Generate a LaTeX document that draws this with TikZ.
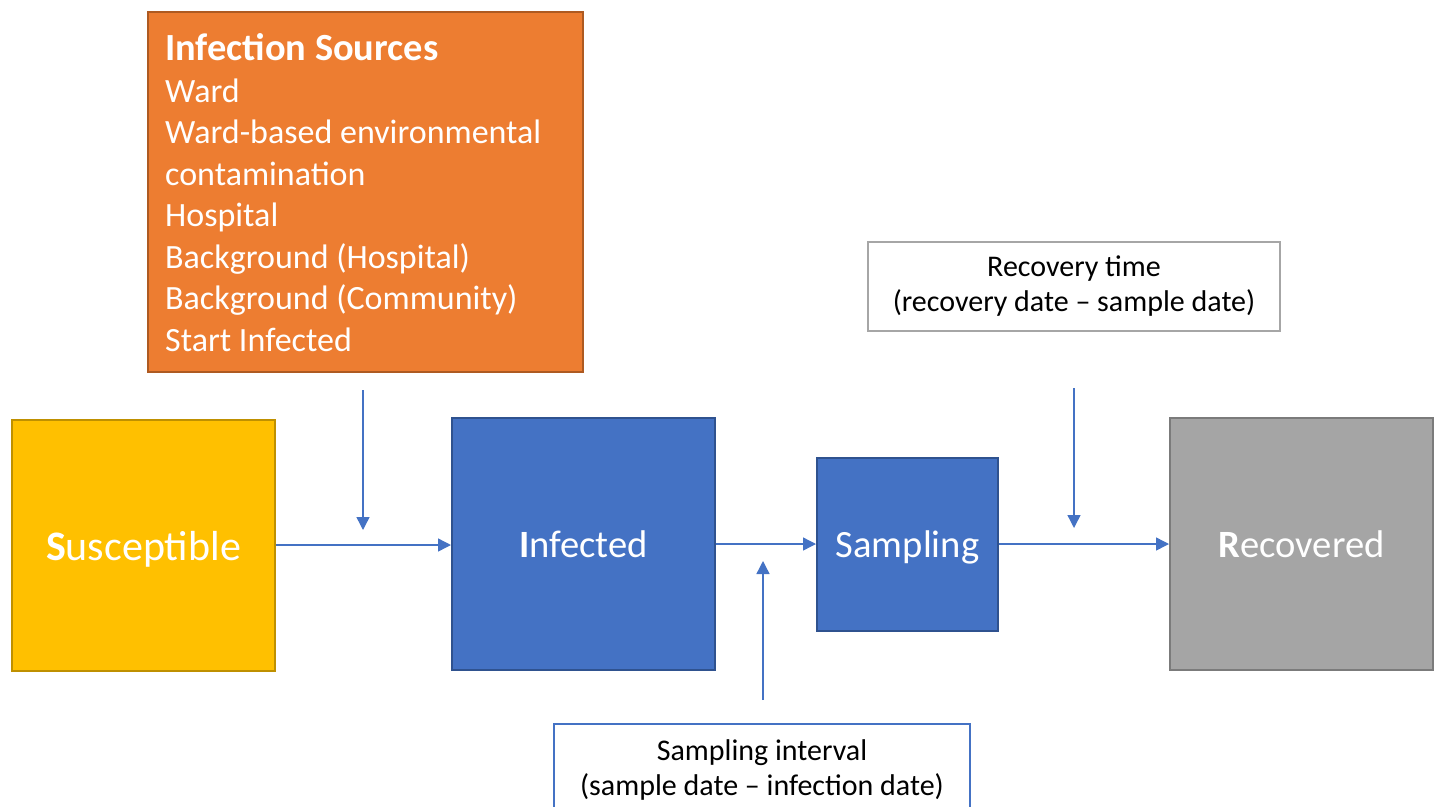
\documentclass[tikz,border=0pt]{standalone}
\usepackage{fontspec}
\setmainfont{Carlito}
\usetikzlibrary{arrows.meta}
\definecolor{srcfill}{HTML}{ED7D31}
\definecolor{srcline}{HTML}{AE5A21}
\definecolor{susfill}{HTML}{FFC000}
\definecolor{susline}{HTML}{BF9000}
\definecolor{infill}{HTML}{4472C4}
\definecolor{inline}{HTML}{2F528F}
\definecolor{recfill}{HTML}{A5A5A5}
\definecolor{recline}{HTML}{7B7B7B}
\definecolor{noteline}{HTML}{A6A6A6}
\tikzset{
  statebox/.style={draw, line width=2pt, inner sep=0pt, text=white,
    text depth=0pt, font=\fontsize{38.6}{46}\selectfont},
  notebox/.style={draw, line width=2pt, fill=white, inner sep=0pt, align=center,
    font=\fontsize{30}{34.5}\selectfont},
  flow/.style={draw=infill, line width=1.4pt,
    -{Triangle[length=13pt,width=13pt]}},
}
\begin{document}
\begin{tikzpicture}[x=1pt,y=-1pt]
\useasboundingbox (0,0) rectangle (1435,806);
\clip (0,0) rectangle (1435,806);

% infection sources panel
\node[draw=srcline, fill=srcfill, line width=2pt, minimum width=435pt,
  minimum height=360pt, inner sep=0pt] (src) at (365.5,192) {};
\node[anchor=base west, align=left, text=white, inner sep=0pt,
  font=\fontsize{34}{41.5}\selectfont] (srclist) at (165,351)
  {{\bfseries\fontsize{38.4}{41.5}\selectfont Infection Sources}\\Ward\\Ward-based environmental\\contamination\\Hospital\\Background (Hospital)\\Background (Community)\\Start Infected};

% compartments
\node[statebox, draw=susline, fill=susfill, minimum width=263pt,
  minimum height=251pt, font=\fontsize{42}{50}\selectfont] (sus) at (143.5,545.5) {\textbf{S}usceptible};
\node[statebox, draw=inline, fill=infill, minimum width=263pt,
  minimum height=252pt] (inf) at (583.5,544) {\textbf{I}nfected};
\node[statebox, draw=inline, fill=infill, minimum width=181pt,
  minimum height=173pt] (samp) at (907.5,544.5) {Sampling};
\node[statebox, draw=recline, fill=recfill, minimum width=263pt,
  minimum height=252pt] (rec) at (1301.5,544) {\textbf{R}ecovered};

% annotation boxes
\node[notebox, draw=noteline, minimum width=412pt, minimum height=89pt]
  (rtime) at (1074,286) {Recovery time\\(recovery date -- sample date)};
\node[notebox, draw=infill, minimum width=416pt, minimum height=120pt,
  anchor=north] (sint) at (762,723) {\\[-2pt]Sampling interval\\(sample date -- infection date)\\[10pt]};

% flows between compartments
\draw[flow] (sus.east |- 0,545) -- (inf.west |- 0,545);
\draw[flow] (inf.east |- 0,544) -- (samp.west |- 0,544);
\draw[flow] (samp.east |- 0,544) -- (rec.west |- 0,544);

% annotation pointers
\coordinate (srcTail) at (363,390);
\coordinate (srcTip) at (363,530);
\coordinate (recTail) at (1074,388);
\coordinate (recTip) at (1074,528);
\coordinate (sintTail) at (763,700);
\coordinate (sintTip) at (763,561);
\draw[flow] (srcTail) -- (srcTip);
\draw[flow] (recTail) -- (recTip);
\draw[flow] (sintTail) -- (sintTip);
\end{tikzpicture}
\end{document}
